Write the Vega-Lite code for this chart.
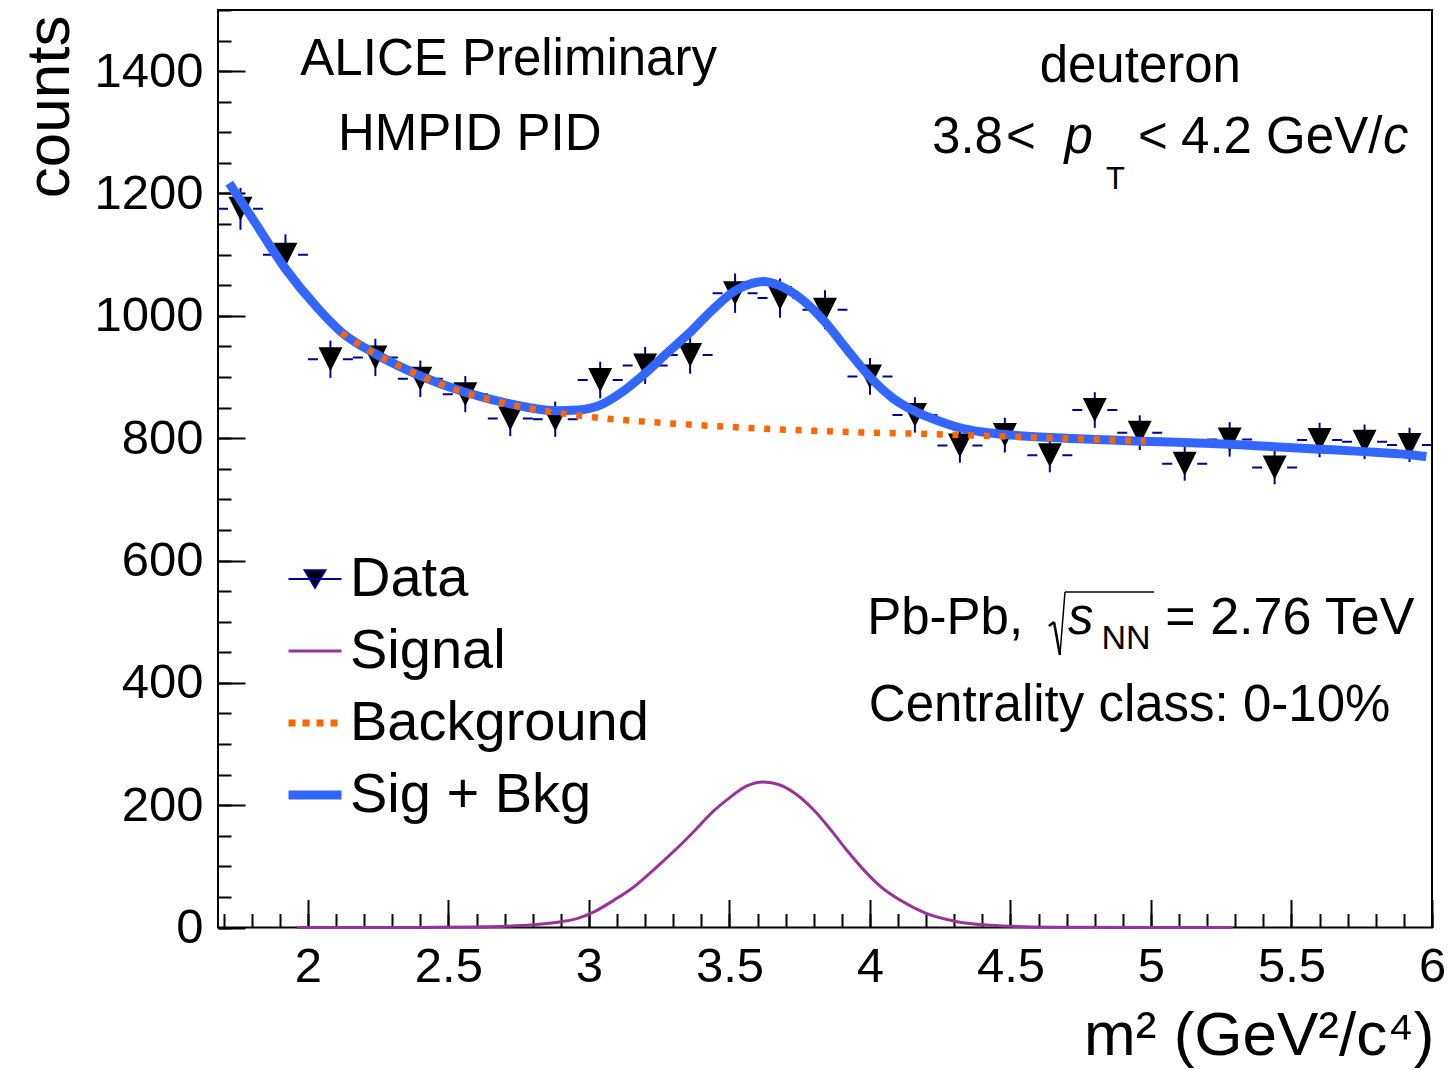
{
  "$schema": "https://vega.github.io/schema/vega-lite/v6.json",
  "width": 1214,
  "height": 917.5,
  "autosize": "none",
  "padding": {"left": 218, "top": 10, "right": 16, "bottom": 142.5},
  "background": "white",
  "config": {
    "view": {"stroke": "black", "strokeWidth": 2},
    "font": "Liberation Sans",
    "axis": {"labelFont": "Liberation Sans", "titleFont": "Liberation Sans", "labelColor": "black", "titleColor": "black", "tickColor": "black", "grid": false, "domain": false, "titleFontWeight": "normal", "labelFlush": false, "labelOverlap": false, "labelBound": false},
    "text": {"font": "Liberation Sans", "color": "black"}
  },
  "datasets": {
    "points": [
      {"m2": 1.76, "xlo": 1.68, "xhi": 1.84, "counts": 1175, "lo": 1140.7, "hi": 1209.3},
      {"m2": 1.92, "xlo": 1.84, "xhi": 2.00, "counts": 1100, "lo": 1066.8, "hi": 1133.2},
      {"m2": 2.08, "xlo": 2.00, "xhi": 2.16, "counts": 929, "lo": 898.5, "hi": 959.5},
      {"m2": 2.24, "xlo": 2.16, "xhi": 2.32, "counts": 932, "lo": 901.5, "hi": 962.5},
      {"m2": 2.40, "xlo": 2.32, "xhi": 2.48, "counts": 897, "lo": 867.1, "hi": 926.9},
      {"m2": 2.56, "xlo": 2.48, "xhi": 2.64, "counts": 872, "lo": 842.5, "hi": 901.5},
      {"m2": 2.72, "xlo": 2.64, "xhi": 2.80, "counts": 832, "lo": 803.2, "hi": 860.8},
      {"m2": 2.88, "xlo": 2.80, "xhi": 2.96, "counts": 831, "lo": 802.2, "hi": 859.8},
      {"m2": 3.04, "xlo": 2.96, "xhi": 3.12, "counts": 895, "lo": 865.1, "hi": 924.9},
      {"m2": 3.20, "xlo": 3.12, "xhi": 3.28, "counts": 919, "lo": 888.7, "hi": 949.3},
      {"m2": 3.36, "xlo": 3.28, "xhi": 3.44, "counts": 936, "lo": 905.4, "hi": 966.6},
      {"m2": 3.52, "xlo": 3.44, "xhi": 3.60, "counts": 1037, "lo": 1004.8, "hi": 1069.2},
      {"m2": 3.68, "xlo": 3.60, "xhi": 3.76, "counts": 1029, "lo": 996.9, "hi": 1061.1},
      {"m2": 3.84, "xlo": 3.76, "xhi": 3.92, "counts": 1010, "lo": 978.2, "hi": 1041.8},
      {"m2": 4.00, "xlo": 3.92, "xhi": 4.08, "counts": 901, "lo": 871.0, "hi": 931.0},
      {"m2": 4.16, "xlo": 4.08, "xhi": 4.24, "counts": 838, "lo": 809.1, "hi": 866.9},
      {"m2": 4.32, "xlo": 4.24, "xhi": 4.40, "counts": 788, "lo": 759.9, "hi": 816.1},
      {"m2": 4.48, "xlo": 4.40, "xhi": 4.56, "counts": 805, "lo": 776.6, "hi": 833.4},
      {"m2": 4.64, "xlo": 4.56, "xhi": 4.72, "counts": 772, "lo": 744.2, "hi": 799.8},
      {"m2": 4.80, "xlo": 4.72, "xhi": 4.88, "counts": 846, "lo": 816.9, "hi": 875.1},
      {"m2": 4.96, "xlo": 4.88, "xhi": 5.04, "counts": 809, "lo": 780.6, "hi": 837.4},
      {"m2": 5.12, "xlo": 5.04, "xhi": 5.20, "counts": 758, "lo": 730.5, "hi": 785.5},
      {"m2": 5.28, "xlo": 5.20, "xhi": 5.36, "counts": 798, "lo": 769.8, "hi": 826.2},
      {"m2": 5.44, "xlo": 5.36, "xhi": 5.52, "counts": 752, "lo": 724.6, "hi": 779.4},
      {"m2": 5.60, "xlo": 5.52, "xhi": 5.68, "counts": 797, "lo": 768.8, "hi": 825.2},
      {"m2": 5.76, "xlo": 5.68, "xhi": 5.84, "counts": 794, "lo": 765.8, "hi": 822.2},
      {"m2": 5.92, "xlo": 5.84, "xhi": 6.00, "counts": 789, "lo": 760.9, "hi": 817.1}
    ],
    "fit": [
      {"series": "Sig + Bkg", "m2": 1.72, "counts": 1217},
      {"series": "Sig + Bkg", "m2": 1.80, "counts": 1161},
      {"series": "Sig + Bkg", "m2": 1.92, "counts": 1077},
      {"series": "Sig + Bkg", "m2": 2.04, "counts": 1010},
      {"series": "Sig + Bkg", "m2": 2.12, "counts": 973},
      {"series": "Sig + Bkg", "m2": 2.24, "counts": 938},
      {"series": "Sig + Bkg", "m2": 2.40, "counts": 902},
      {"series": "Sig + Bkg", "m2": 2.56, "counts": 875},
      {"series": "Sig + Bkg", "m2": 2.72, "counts": 856},
      {"series": "Sig + Bkg", "m2": 2.88, "counts": 845},
      {"series": "Sig + Bkg", "m2": 2.96, "counts": 846},
      {"series": "Sig + Bkg", "m2": 3.04, "counts": 854},
      {"series": "Sig + Bkg", "m2": 3.12, "counts": 876},
      {"series": "Sig + Bkg", "m2": 3.20, "counts": 906},
      {"series": "Sig + Bkg", "m2": 3.28, "counts": 940},
      {"series": "Sig + Bkg", "m2": 3.36, "counts": 973},
      {"series": "Sig + Bkg", "m2": 3.44, "counts": 1010},
      {"series": "Sig + Bkg", "m2": 3.52, "counts": 1041},
      {"series": "Sig + Bkg", "m2": 3.58, "counts": 1053},
      {"series": "Sig + Bkg", "m2": 3.62, "counts": 1056},
      {"series": "Sig + Bkg", "m2": 3.68, "counts": 1049},
      {"series": "Sig + Bkg", "m2": 3.76, "counts": 1026},
      {"series": "Sig + Bkg", "m2": 3.84, "counts": 990},
      {"series": "Sig + Bkg", "m2": 3.92, "counts": 944},
      {"series": "Sig + Bkg", "m2": 4.00, "counts": 900},
      {"series": "Sig + Bkg", "m2": 4.08, "counts": 866},
      {"series": "Sig + Bkg", "m2": 4.16, "counts": 844},
      {"series": "Sig + Bkg", "m2": 4.24, "counts": 829},
      {"series": "Sig + Bkg", "m2": 4.32, "counts": 817},
      {"series": "Sig + Bkg", "m2": 4.40, "counts": 810},
      {"series": "Sig + Bkg", "m2": 4.48, "counts": 806},
      {"series": "Sig + Bkg", "m2": 4.64, "counts": 801},
      {"series": "Sig + Bkg", "m2": 4.80, "counts": 798},
      {"series": "Sig + Bkg", "m2": 4.96, "counts": 795},
      {"series": "Sig + Bkg", "m2": 5.12, "counts": 793},
      {"series": "Sig + Bkg", "m2": 5.28, "counts": 790},
      {"series": "Sig + Bkg", "m2": 5.44, "counts": 786},
      {"series": "Sig + Bkg", "m2": 5.60, "counts": 782},
      {"series": "Sig + Bkg", "m2": 5.76, "counts": 778},
      {"series": "Sig + Bkg", "m2": 5.92, "counts": 773},
      {"series": "Sig + Bkg", "m2": 5.98, "counts": 770},
      {"series": "Background", "m2": 2.12, "counts": 972},
      {"series": "Background", "m2": 2.24, "counts": 938},
      {"series": "Background", "m2": 2.40, "counts": 902},
      {"series": "Background", "m2": 2.56, "counts": 874},
      {"series": "Background", "m2": 2.72, "counts": 855},
      {"series": "Background", "m2": 2.88, "counts": 842},
      {"series": "Background", "m2": 3.04, "counts": 833},
      {"series": "Background", "m2": 3.20, "counts": 827},
      {"series": "Background", "m2": 3.40, "counts": 821},
      {"series": "Background", "m2": 3.60, "counts": 816},
      {"series": "Background", "m2": 3.80, "counts": 812},
      {"series": "Background", "m2": 4.00, "counts": 809},
      {"series": "Background", "m2": 4.20, "counts": 807},
      {"series": "Background", "m2": 4.40, "counts": 804},
      {"series": "Background", "m2": 4.60, "counts": 801},
      {"series": "Background", "m2": 4.80, "counts": 798},
      {"series": "Background", "m2": 4.98, "counts": 795},
      {"series": "Signal", "m2": 1.96, "counts": 0},
      {"series": "Signal", "m2": 2.40, "counts": 0.2},
      {"series": "Signal", "m2": 2.60, "counts": 1},
      {"series": "Signal", "m2": 2.70, "counts": 2},
      {"series": "Signal", "m2": 2.80, "counts": 4.5},
      {"series": "Signal", "m2": 2.90, "counts": 9.5},
      {"series": "Signal", "m2": 2.96, "counts": 15},
      {"series": "Signal", "m2": 3.02, "counts": 26},
      {"series": "Signal", "m2": 3.09, "counts": 45},
      {"series": "Signal", "m2": 3.15, "counts": 63},
      {"series": "Signal", "m2": 3.21, "counts": 86},
      {"series": "Signal", "m2": 3.27, "counts": 111},
      {"series": "Signal", "m2": 3.33, "counts": 137},
      {"series": "Signal", "m2": 3.39, "counts": 165},
      {"series": "Signal", "m2": 3.44, "counts": 189},
      {"series": "Signal", "m2": 3.50, "counts": 212},
      {"series": "Signal", "m2": 3.56, "counts": 231},
      {"series": "Signal", "m2": 3.62, "counts": 238},
      {"series": "Signal", "m2": 3.68, "counts": 233},
      {"series": "Signal", "m2": 3.74, "counts": 217},
      {"series": "Signal", "m2": 3.80, "counts": 192},
      {"series": "Signal", "m2": 3.86, "counts": 160},
      {"series": "Signal", "m2": 3.92, "counts": 125},
      {"series": "Signal", "m2": 3.98, "counts": 93},
      {"series": "Signal", "m2": 4.04, "counts": 66},
      {"series": "Signal", "m2": 4.11, "counts": 44},
      {"series": "Signal", "m2": 4.20, "counts": 23},
      {"series": "Signal", "m2": 4.31, "counts": 9.5},
      {"series": "Signal", "m2": 4.43, "counts": 3.5},
      {"series": "Signal", "m2": 4.55, "counts": 1.2},
      {"series": "Signal", "m2": 4.70, "counts": 0.4},
      {"series": "Signal", "m2": 5.00, "counts": 0},
      {"series": "Signal", "m2": 5.29, "counts": 0}
    ]
  },
  "resolve": {"axis": {"x": "independent", "y": "independent"}},
  "layer": [
    {
      "data": {"name": "points"},
      "mark": {"type": "rule", "stroke": "#000099", "strokeWidth": 2, "strokeDash": [10, 25]},
      "encoding": {
        "x": {"field": "xlo", "type": "quantitative", "scale": {"domain": [1.68, 6.0], "nice": false, "zero": false},
          "axis": {"orient": "bottom", "values": [2, 2.5, 3, 3.5, 4, 4.5, 5, 5.5, 6], "format": "~g", "tickSize": -28, "tickWidth": 2, "labelFontSize": 49, "labelPadding": 43,
            "title": "m² (GeV²/c⁴)", "titleFontSize": 62, "titleAnchor": "end", "titleAlign": "right", "titleBaseline": "alphabetic", "titleX": 1216, "titleY": 127}},
        "x2": {"field": "xhi"},
        "y": {"field": "counts", "type": "quantitative", "scale": {"domain": [0, 1500], "nice": false, "zero": false},
          "axis": {"orient": "left", "values": [0, 200, 400, 600, 800, 1000, 1200, 1400], "format": "d", "tickSize": -27, "tickWidth": 2, "labelFontSize": 49, "labelPadding": 42,
            "title": "counts", "titleFontSize": 62, "titleAngle": 270, "titleAnchor": "end", "titleAlign": "right", "titleBaseline": "alphabetic", "titleX": -150, "titleY": 5}}
      }
    },
    {
      "data": {"name": "points"},
      "mark": {"type": "rule", "stroke": "#000099", "strokeWidth": 2},
      "encoding": {
        "x": {"field": "m2", "type": "quantitative", "axis": null},
        "y": {"field": "lo", "type": "quantitative", "axis": null},
        "y2": {"field": "hi"}
      }
    },
    {
      "data": {"name": "points"},
      "mark": {"type": "point", "shape": "M-1,-1L1,-1L0,1Z", "filled": true, "fill": "black", "opacity": 1, "size": 576, "strokeWidth": 0},
      "encoding": {
        "x": {"field": "m2", "type": "quantitative", "axis": null},
        "y": {"field": "counts", "type": "quantitative", "axis": null}
      }
    },
    {
      "data": {"name": "fit"},
      "transform": [{"filter": "datum.series === 'Sig + Bkg'"}],
      "mark": {"type": "line", "strokeWidth": 9, "interpolate": "monotone"},
      "encoding": {
        "x": {"field": "m2", "type": "quantitative",
          "axis": {"orient": "bottom", "values": [1.7, 1.8, 1.9, 2.0, 2.1, 2.2, 2.3, 2.4, 2.5, 2.6, 2.7, 2.8, 2.9, 3.0, 3.1, 3.2, 3.3, 3.4, 3.5, 3.6, 3.7, 3.8, 3.9, 4.0, 4.1, 4.2, 4.3, 4.4, 4.5, 4.6, 4.7, 4.8, 4.9, 5.0, 5.1, 5.2, 5.3, 5.4, 5.5, 5.6, 5.7, 5.8, 5.9, 6.0], "tickSize": -14, "tickWidth": 2, "labels": false, "title": null}},
        "y": {"field": "counts", "type": "quantitative",
          "axis": {"orient": "left", "values": [0, 50, 100, 150, 200, 250, 300, 350, 400, 450, 500, 550, 600, 650, 700, 750, 800, 850, 900, 950, 1000, 1050, 1100, 1150, 1200, 1250, 1300, 1350, 1400, 1450, 1500], "tickSize": -13, "tickWidth": 2, "labels": false, "title": null}},
        "color": {"field": "series", "type": "nominal",
          "scale": {"domain": ["Data", "Signal", "Background", "Sig + Bkg"], "range": ["#000099", "#993399", "#ff6600", "#3366ff"]},
          "legend": {"orient": "none", "legendX": 69, "legendY": 541, "direction": "vertical", "title": null, "padding": 0,
            "labelFontSize": 56, "labelFont": "Liberation Sans", "labelColor": "black", "labelLimit": 1000, "labelOffset": 7,
            "symbolSize": 2809, "symbolType": "M-1,0L1,0", "symbolStrokeWidth": 3, "rowPadding": 16,
            "encode": {"symbols": {"update": {
              "shape": {"signal": "datum.value === 'Data' ? 'M-1,0L1,0M-0.39,-0.33L0.39,-0.33L0,0.33Z' : 'M-1,0L1,0'"},
              "fill": {"signal": "datum.value === 'Data' ? 'black' : 'transparent'"},
              "strokeWidth": {"signal": "datum.value === 'Data' ? 2 : datum.value === 'Signal' ? 3 : datum.value === 'Background' ? 7 : 9"},
              "strokeDash": {"signal": "datum.value === 'Background' ? [7, 7] : [1, 0]"},
              "opacity": {"value": 1}
            }}}}
        }
      }
    },
    {
      "data": {"name": "fit"},
      "transform": [{"filter": "datum.series === 'Background'"}],
      "mark": {"type": "line", "strokeWidth": 6.5, "strokeDash": [6, 9.7], "strokeCap": "butt", "interpolate": "monotone"},
      "encoding": {
        "x": {"field": "m2", "type": "quantitative", "axis": null},
        "y": {"field": "counts", "type": "quantitative", "axis": null},
        "color": {"field": "series", "type": "nominal"}
      }
    },
    {
      "data": {"name": "fit"},
      "transform": [{"filter": "datum.series === 'Signal'"}],
      "mark": {"type": "line", "strokeWidth": 3, "interpolate": "monotone"},
      "encoding": {
        "x": {"field": "m2", "type": "quantitative", "axis": null},
        "y": {"field": "counts", "type": "quantitative", "axis": null},
        "color": {"field": "series", "type": "nominal"}
      }
    },
    {"data": {"values": [{}]}, "mark": {"type": "text", "text": "ALICE Preliminary", "fontSize": 51, "align": "left", "baseline": "alphabetic"},
      "encoding": {"x": {"datum": 1.973, "type": "quantitative", "axis": null}, "y": {"datum": 1393.7, "type": "quantitative", "axis": null}}},
    {"data": {"values": [{}]}, "mark": {"type": "text", "text": "HMPID PID", "fontSize": 51, "align": "left", "baseline": "alphabetic"},
      "encoding": {"x": {"datum": 2.107, "type": "quantitative", "axis": null}, "y": {"datum": 1271.1, "type": "quantitative", "axis": null}}},
    {"data": {"values": [{}]}, "mark": {"type": "text", "text": "deuteron", "fontSize": 51, "align": "center", "baseline": "alphabetic"},
      "encoding": {"x": {"datum": 4.962, "type": "quantitative", "axis": null}, "y": {"datum": 1382.3, "type": "quantitative", "axis": null}}},
    {"data": {"values": [{}]}, "mark": {"type": "text", "text": "3.8", "fontSize": 51, "align": "left", "baseline": "alphabetic"},
      "encoding": {"x": {"datum": 4.221, "type": "quantitative", "axis": null}, "y": {"datum": 1266.6, "type": "quantitative", "axis": null}}},
    {"data": {"values": [{}]}, "mark": {"type": "text", "text": "<", "fontSize": 51, "align": "left", "baseline": "alphabetic"},
      "encoding": {"x": {"datum": 4.484, "type": "quantitative", "axis": null}, "y": {"datum": 1266.6, "type": "quantitative", "axis": null}}},
    {"data": {"values": [{}]}, "mark": {"type": "text", "text": "p", "fontSize": 51, "fontStyle": "italic", "align": "left", "baseline": "alphabetic"},
      "encoding": {"x": {"datum": 4.692, "type": "quantitative", "axis": null}, "y": {"datum": 1266.6, "type": "quantitative", "axis": null}}},
    {"data": {"values": [{}]}, "mark": {"type": "text", "text": "T", "fontSize": 31, "align": "left", "baseline": "alphabetic"},
      "encoding": {"x": {"datum": 4.840, "type": "quantitative", "axis": null}, "y": {"datum": 1207.4, "type": "quantitative", "axis": null}}},
    {"data": {"values": [{}]}, "mark": {"type": "text", "text": "<", "fontSize": 51, "align": "left", "baseline": "alphabetic"},
      "encoding": {"x": {"datum": 4.954, "type": "quantitative", "axis": null}, "y": {"datum": 1266.6, "type": "quantitative", "axis": null}}},
    {"data": {"values": [{}]}, "mark": {"type": "text", "text": "4.2 GeV/", "fontSize": 51, "align": "left", "baseline": "alphabetic"},
      "encoding": {"x": {"datum": 5.107, "type": "quantitative", "axis": null}, "y": {"datum": 1266.6, "type": "quantitative", "axis": null}}},
    {"data": {"values": [{}]}, "mark": {"type": "text", "text": "c", "fontSize": 51, "fontStyle": "italic", "align": "left", "baseline": "alphabetic"},
      "encoding": {"x": {"datum": 5.826, "type": "quantitative", "axis": null}, "y": {"datum": 1266.6, "type": "quantitative", "axis": null}}},
    {"data": {"values": [{}]}, "mark": {"type": "text", "text": "Pb-Pb,", "fontSize": 51, "align": "left", "baseline": "alphabetic"},
      "encoding": {"x": {"datum": 3.990, "type": "quantitative", "axis": null}, "y": {"datum": 479.8, "type": "quantitative", "axis": null}}},
    {"data": {"values": [{}]}, "mark": {"type": "rule", "stroke": "black", "strokeWidth": 2.5},
      "encoding": {"x": {"datum": 4.637, "type": "quantitative", "axis": null}, "x2": {"datum": 4.655}, "y": {"datum": 492.9, "type": "quantitative", "axis": null}, "y2": {"datum": 499.5}}},
    {"data": {"values": [{}]}, "mark": {"type": "rule", "stroke": "black", "strokeWidth": 2.5},
      "encoding": {"x": {"datum": 4.655, "type": "quantitative", "axis": null}, "x2": {"datum": 4.676}, "y": {"datum": 499.5, "type": "quantitative", "axis": null}, "y2": {"datum": 445.5}}},
    {"data": {"values": [{}]}, "mark": {"type": "rule", "stroke": "black", "strokeWidth": 1.5},
      "encoding": {"x": {"datum": 4.676, "type": "quantitative", "axis": null}, "x2": {"datum": 4.694}, "y": {"datum": 445.5, "type": "quantitative", "axis": null}, "y2": {"datum": 548.5}}},
    {"data": {"values": [{}]}, "mark": {"type": "rule", "stroke": "black", "strokeWidth": 1.5},
      "encoding": {"x": {"datum": 4.694, "type": "quantitative", "axis": null}, "x2": {"datum": 5.011}, "y": {"datum": 548.5, "type": "quantitative", "axis": null}}},
    {"data": {"values": [{}]}, "mark": {"type": "text", "text": "s", "fontSize": 51, "fontStyle": "italic", "align": "left", "baseline": "alphabetic"},
      "encoding": {"x": {"datum": 4.705, "type": "quantitative", "axis": null}, "y": {"datum": 479.8, "type": "quantitative", "axis": null}}},
    {"data": {"values": [{}]}, "mark": {"type": "text", "text": "NN", "fontSize": 34, "align": "left", "baseline": "alphabetic"},
      "encoding": {"x": {"datum": 4.824, "type": "quantitative", "axis": null}, "y": {"datum": 455.6, "type": "quantitative", "axis": null}}},
    {"data": {"values": [{}]}, "mark": {"type": "text", "text": "= 2.76 TeV", "fontSize": 52, "align": "left", "baseline": "alphabetic"},
      "encoding": {"x": {"datum": 5.051, "type": "quantitative", "axis": null}, "y": {"datum": 479.8, "type": "quantitative", "axis": null}}},
    {"data": {"values": [{}]}, "mark": {"type": "text", "text": "Centrality class: 0-10%", "fontSize": 51, "align": "left", "baseline": "alphabetic"},
      "encoding": {"x": {"datum": 3.996, "type": "quantitative", "axis": null}, "y": {"datum": 337.6, "type": "quantitative", "axis": null}}}
  ]
}
